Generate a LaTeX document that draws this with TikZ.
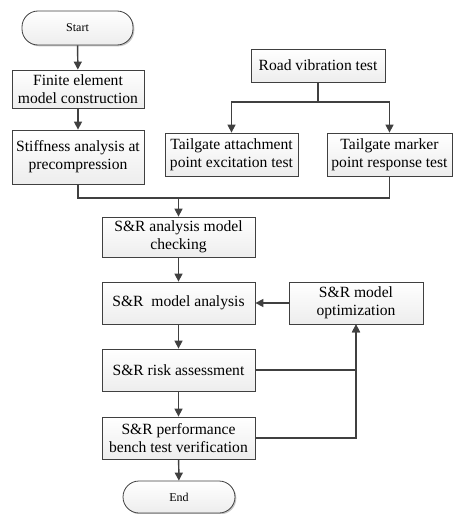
\documentclass[tikz,border=0pt]{standalone}
\usepackage{fontspec}
\setmainfont{Liberation Serif}
\usepackage{tikz}
\usetikzlibrary{shadows,arrows.meta}
\definecolor{linegray}{RGB}{64,64,64}
\tikzset{every picture/.style={line width=0.75pt}}
\tikzset{
  flowbox/.style={draw=linegray, line width=0.6pt, top color=white, bottom color=gray!14,
    drop shadow={shadow xshift=1pt, shadow yshift=-1pt, fill=gray!45, opacity=1},
    align=center, inner sep=1pt, font=\fontsize{11.7}{13.5}\selectfont},
  termbox/.style={flowbox, rounded corners=12pt, font=\fontsize{9}{11}\selectfont},
  flowarrow/.style={draw=linegray, line width=1.1pt, -{Triangle[length=6pt,width=6pt]}},
  flowline/.style={draw=linegray, line width=1.1pt}
}

\begin{document}
\begin{tikzpicture}[x=0.75pt,y=0.75pt,yscale=-1,xscale=1]
\useasboundingbox (0,0) rectangle (453,514);

%Left column
\node [termbox, minimum width=83.25pt, minimum height=25.5pt] (start) at (77.5,28) {Start};
\node [flowbox, minimum width=99pt, minimum height=28.5pt] (fem) at (78,89) {Finite element\\model construction};
\node [flowbox, minimum width=99pt, minimum height=40.5pt] (stiff) at (78,157) {Stiffness analysis at\\precompression};

%Test branch
\node [flowbox, minimum width=100.5pt, minimum height=24.75pt] (road) at (318,65.5) {Road vibration test};
\node [flowbox, minimum width=99.75pt, minimum height=32.25pt] (attach) at (231.5,154.5) {Tailgate attachment\\point excitation test};
\node [flowbox, minimum width=93.75pt, minimum height=32.25pt] (marker) at (389.5,154.5) {Tailgate marker\\point response test};

%Main column
\node [flowbox, minimum width=114.75pt, minimum height=30pt] (check) at (178.5,237) {S\&R analysis model\\checking};
\node [flowbox, minimum width=114.75pt, minimum height=31.5pt] (model) at (178.5,303) {S\&R\ \ model analysis};
\node [flowbox, minimum width=114.75pt, minimum height=31.5pt] (risk) at (178.5,370) {S\&R risk assessment};
\node [flowbox, minimum width=114.75pt, minimum height=31.5pt] (bench) at (178.5,438) {S\&R performance\\bench test verification};
\node [termbox, minimum width=84pt, minimum height=24pt] (end) at (179,497) {End};
\node [flowbox, minimum width=100.5pt, minimum height=31.5pt] (opt) at (356,303) {S\&R model\\optimization};

%Connectors
\draw [flowarrow] (start) -- (fem);
\draw [flowarrow] (fem) -- (stiff);
\coordinate (split) at (318,102);
\draw [flowline] (road) -- (split);
\draw [flowarrow] (split) -| (attach);
\draw [flowarrow] (split) -| (marker);
\coordinate (merge) at (178.5,198);
\draw [flowline] (stiff.south) |- (merge);
\draw [flowline] (marker.south) |- (merge);
\draw [flowarrow] (merge) -- (check);
\draw [flowarrow] (check) -- (model);
\draw [flowarrow] (model) -- (risk);
\draw [flowarrow] (risk) -- (bench);
\draw [flowarrow] (bench) -- (end);
\draw [flowarrow] (opt) -- (model);
\draw [flowarrow] (risk.east) -| (opt.south);
\draw [flowarrow] (bench.east) -| (opt.south);

\end{tikzpicture}
\end{document}
